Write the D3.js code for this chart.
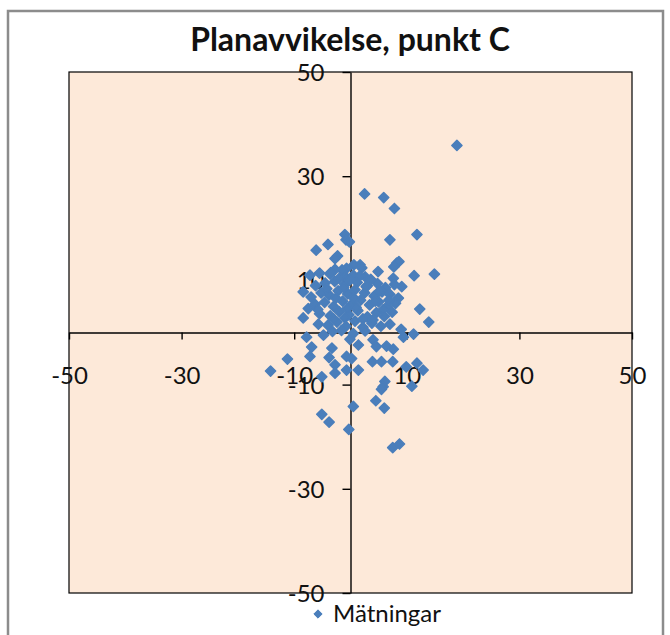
<!DOCTYPE html>
<html>
<head>
<meta charset="utf-8">
<script src="https://cdn.jsdelivr.net/npm/d3@7"></script>
<style>
  body { margin: 0; background: #fff; }
  svg { display: block; font-family: Lato, "Open Sans", sans-serif; }
</style>
</head>
<body>
<svg width="670" height="635"></svg>
<script>
var xVals = [18.9, 2.5, 5.9, 7.8, 11.8, 7.0, -1.0, -0.8, -0.2, -4.0, -6.1, -2.3, -2.75, 8.2, 8.6, 7.7,
  14.9, 11.3, 4.9, 1.7, 0.6, -0.7, -2.75, -3.6, -7.2, 2.6, -5.5,
  -8.4, -7.5, -8.4, -5.7, -4.8, -7.8, -6.9, -7.2, -11.2, -14.2, -3.3, -3.8, -2.75, -2.75, -5.1,
  -0.7, 0.2, -0.7, 1.4, 1.4, -0.1, 4.0, 4.6, 6.4, 7.6, 9.4, 11.2, 3.9, 5.5, 7.5, 11.8, 12.9, 9.9,
  10.9, 6.1, 5.8, 5.5, 0.5, 4.5, 6.0, -5.1, -3.8, -0.3, 7.5, 8.7, 12.3, 13.9, 8.5, 9.1, 7.6,
  -3.5, -1.5, 0.5, 2.0, -0.8,
  -4.5, -2.8, -1.0, 1.2, 3.0, 4.8, 6.2, 7.8, -6.2,
  -5.2, -3.8, -2.2, -0.5, 0.8, 2.5, 4.2, 5.6, 7.0, -7.0,
  -6.3, -4.6, -3.0, -1.4, 0.2, 1.8, 3.4, 5.0, 6.5, 8.0,
  -5.5, -3.6, -2.0, -0.3, 1.3, 3.0, 4.6, 6.0, 7.4,
  -4.0, -2.4, -0.8, 0.8, 2.2, 3.8, 5.4, 7.0,
  -1.6, 0.5, 2.6, -3.2, 9.0,
  -2.0, -0.2, 1.6, 3.6, 5.2, -4.2, -1.2, 0.6, 2.8, 4.4, 6.8, -5.8, -2.6, -0.6, 1.0, 2.2, 4.0, 5.8, -3.0, -1.0];
var yVals = [35.9, 26.6, 25.9, 23.8, 18.8, 17.8, 18.8, 17.8, 17.4, 16.9, 15.8, 14.7, 14.2, 13.3, 13.6, 12.6,
  11.2, 10.9, 11.7, 13.0, 13.0, 12.3, 12.1, 11.2, 11.0, 10.7, 11.4,
  7.8, 4.6, 2.8, 1.6, -0.5, -0.9, -2.8, -4.6, -5.1, -7.4, -3.0, -4.8, -6.2, -7.8, -8.5,
  -4.6, -5.0, -7.2, -7.2, -2.4, -1.3, -1.4, -2.7, -2.6, -3.2, -0.9, -0.3, -5.6, -5.6, -5.6, -5.9, -7.2, -6.6,
  -10.3, -9.4, -10.4, -10.9, -14.2, -13.1, -14.5, -15.7, -17.2, -18.6, -22.1, -21.4, 4.5, 2.0, 6.6, 8.8, 10.4,
  11.5, 12.0, 11.0, 12.4, 10.6,
  9.5, 9.8, 9.2, 9.6, 9.0, 9.4, 8.6, 9.2, 9.0,
  7.6, 7.2, 8.0, 7.4, 8.2, 7.6, 7.0, 7.8, 7.3, 6.8,
  5.4, 5.8, 5.0, 6.0, 5.4, 6.2, 5.3, 5.9, 5.0, 5.6,
  3.6, 3.2, 4.0, 3.4, 4.2, 3.0, 3.8, 3.1, 3.9,
  1.4, 2.0, 1.2, 2.2, 1.0, 1.8, 1.2, 1.6,
  0.4, -0.2, 0.3, 0.2, 0.6,
  10.4, 10.0, 10.8, 10.2, 8.0, 8.4, 8.6, 6.6, 8.8, 6.0, 6.2, 4.4, 6.6, 4.6, 4.8, 2.6, 2.4, 4.4, 2.6, 2.8];
var tickVals = [-50, -30, -10, 10, 30, 50];
var titleText = "Planavvikelse, punkt C";
var seriesName = "Mätningar";

var points = xVals.map(function(d, i) { return {x: d, y: yVals[i]}; });

var svg = d3.select("svg");
var blue = "#4a7ebb";

var plot = {left: 69, right: 632, top: 72, bottom: 593};

var x = d3.scaleLinear().domain([-50, 50]).range([plot.left, plot.right]);
var y = d3.scaleLinear().domain([-50, 50]).range([plot.bottom, plot.top]);

// chart frame
svg.append("rect")
  .attr("x", 8).attr("y", 11)
  .attr("width", 655).attr("height", 640)
  .attr("fill", "#fff")
  .attr("stroke", "#8c8c8c")
  .attr("stroke-width", 2.5);

// plot area
svg.append("rect")
  .attr("x", plot.left).attr("y", plot.top)
  .attr("width", plot.right - plot.left).attr("height", plot.bottom - plot.top)
  .attr("fill", "#fde9d9")
  .attr("stroke", "#000")
  .attr("stroke-width", 1.2);

// title
svg.append("text")
  .attr("x", 350).attr("y", 51)
  .attr("text-anchor", "middle")
  .style("font-weight", "bold")
  .style("font-size", "32px")
  .attr("fill", "#111")
  .text(titleText);

// axes crossing at zero, plain hyphen for negatives like the original
var fmt = function(d) { return String(d); };

var gx = svg.append("g")
  .attr("class", "axis axis--x")
  .attr("transform", "translate(0," + y(0) + ")")
  .call(d3.axisBottom(x).tickValues(tickVals).tickFormat(fmt).tickSize(7).tickSizeOuter(0));
gx.selectAll("text")
  .attr("y", 43).attr("dy", "0.35em")
  .style("font-size", "24px");

var gy = svg.append("g")
  .attr("class", "axis axis--y")
  .attr("transform", "translate(" + x(0) + ",0)")
  .call(d3.axisLeft(y).tickValues(tickVals).tickFormat(fmt).tickSize(8).tickSizeOuter(0));
gy.selectAll("text")
  .attr("x", -26).attr("dy", "0.35em")
  .style("font-size", "24px");

svg.selectAll(".axis path, .axis line")
  .attr("stroke", "#000")
  .attr("stroke-width", 1.4);
svg.selectAll(".axis text")
  .attr("fill", "#111")
  .style("font-family", "Lato, 'Open Sans', sans-serif");

// points
var marker = d3.symbol().type(d3.symbolDiamond2).size(66);
svg.append("g")
  .selectAll("path")
  .data(points)
  .join("path")
  .attr("transform", function(d) { return "translate(" + x(d.x) + "," + y(d.y) + ")"; })
  .attr("d", marker)
  .attr("fill", blue)
  .attr("stroke", blue)
  .attr("stroke-width", 1.5)
  .attr("stroke-linejoin", "round");

// legend
var legend = svg.append("g").attr("transform", "translate(318,614)");
legend.append("path")
  .attr("d", d3.symbol().type(d3.symbolDiamond2).size(44))
  .attr("fill", blue)
  .attr("stroke", blue)
  .attr("stroke-linejoin", "round");
legend.append("text")
  .attr("x", 15).attr("dy", "0.35em")
  .style("font-size", "24px")
  .attr("fill", "#111")
  .text(seriesName);
</script>
</body>
</html>
